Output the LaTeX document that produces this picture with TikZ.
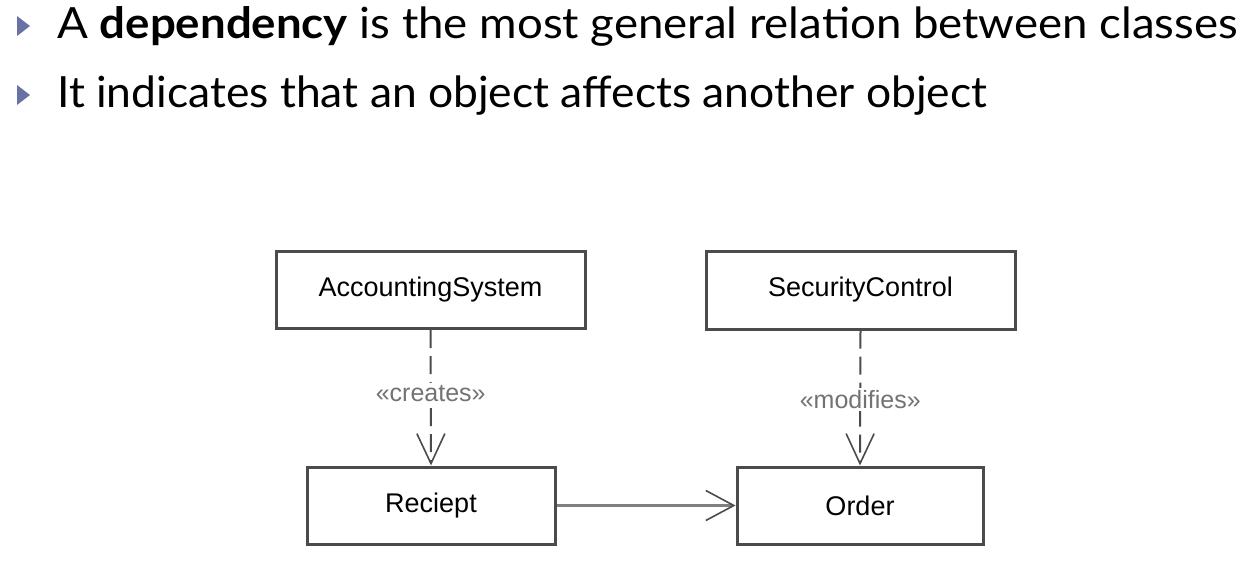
\documentclass[tikz,border=0pt]{standalone}
\usepackage{fontspec}
\setmainfont{Liberation Sans}
\newfontfamily\headfont{Lato}
\usetikzlibrary{arrows.meta}
\definecolor{bulletblue}{RGB}{104,114,164}
\definecolor{boxline}{RGB}{75,75,75}
\tikzset{
  classbox/.style={draw=boxline, line width=3pt, fill=white, inner sep=0pt, font=\fontsize{27}{30}\selectfont, text=black},
  deparrow/.style={draw=boxline, line width=2pt, dash pattern=on 18pt off 8pt, -{Straight Barb[length=30pt,width=28pt,line width=1.6pt]}},
  assocarrow/.style={draw=black!50, line width=3pt, -{Straight Barb[length=28pt,width=30pt,line width=1.6pt,color=boxline]}},
  stereo/.style={fill=white, text=black!55, font=\fontsize{25}{28}\selectfont, inner sep=2pt},
  headline/.style={anchor=base west, inner sep=0pt, text=black, font=\headfont\fontsize{43}{50}\selectfont},
  bullet/.style={fill=bulletblue, draw=none}
}
\begin{document}
\begin{tikzpicture}[x=1pt,y=-1pt]
\useasboundingbox (0,0) rectangle (1259,565);
% header
\fill[bullet] (17,16) -- (30,26) -- (17,36) -- cycle;
\fill[bullet] (17,85) -- (30,95) -- (17,105) -- cycle;
\node[headline] (l1) at (57,38) {\resizebox{1181pt}{\height}{A \textbf{dependency} is the most general relation between classes}};
\node[headline] (l2) at (57,107) {\resizebox{930pt}{\height}{It indicates that an object affects another object}};
% boxes
\node[classbox, minimum width=309pt, minimum height=77pt] (acc) at (430.5,290) {AccountingSystem};
\node[classbox, minimum width=309pt, minimum height=78pt] (sec) at (860.5,290) {SecurityControl};
\node[classbox, minimum width=248pt, minimum height=77pt] (rec) at (431,505.5) {Reciept};
\node[classbox, minimum width=246pt, minimum height=77pt] (ord) at (860,505.5) {Order};
% connectors
\draw[deparrow] (acc.south) -- node[stereo, pos=0.47] {«creates»} (rec.north);
\draw[deparrow] (sec.south) -- node[stereo, pos=0.51] {«modifies»} (ord.north);
\draw[assocarrow] (rec.east) -- (ord.west);
\end{tikzpicture}
\end{document}
